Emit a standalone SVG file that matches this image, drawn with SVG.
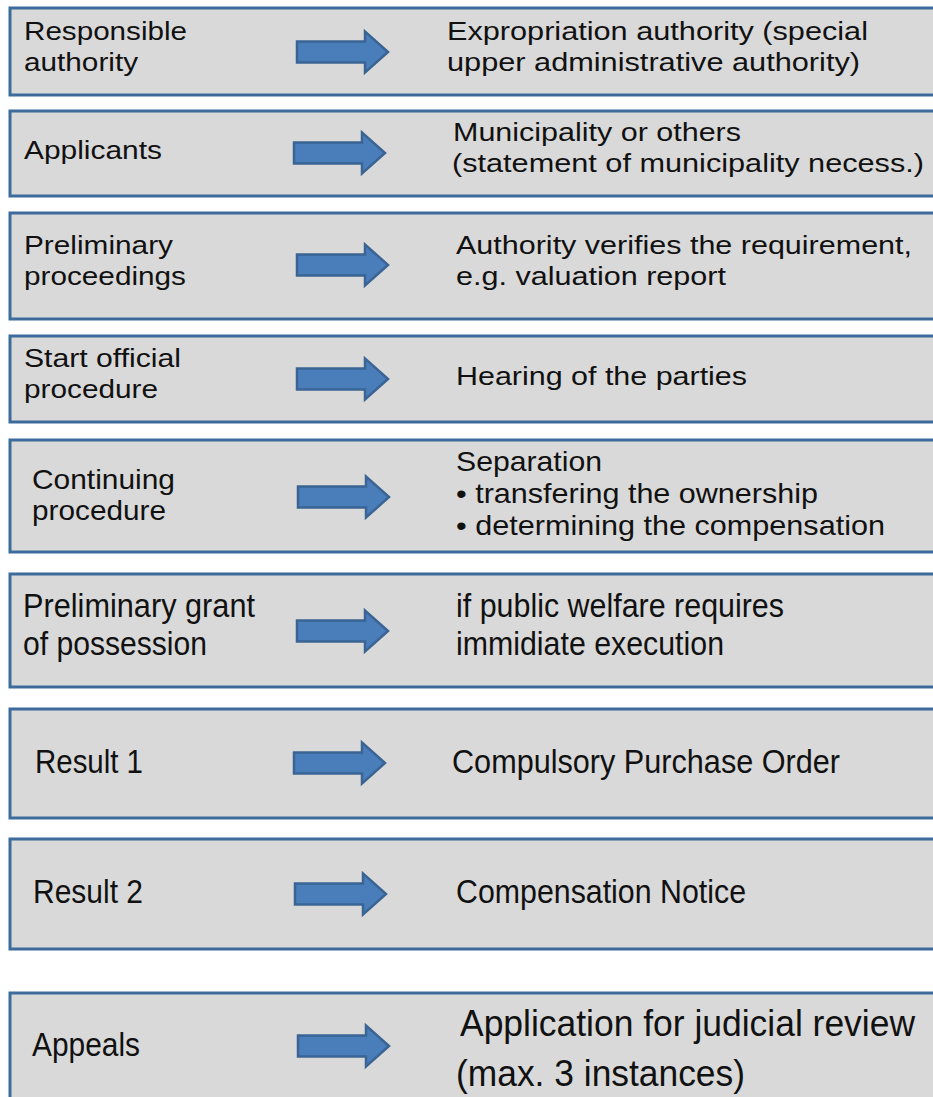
<svg xmlns="http://www.w3.org/2000/svg" width="933" height="1097" viewBox="0 0 933 1097">
<style>
.box{fill:#d9d9d9;stroke:#3d6b9c;stroke-width:3}
.arr{fill:#4a7ebb;stroke:#3a6494;stroke-width:2.5;stroke-linejoin:miter}
.t{font-family:"Liberation Sans",Arial,sans-serif;font-size:25px;fill:#111}
.n{font-family:"Liberation Sans Narrow","Liberation Sans",Arial,sans-serif;fill:#111}
</style>
<defs>
<path id="arrow" class="arr" d="M0,-10.5 H68 V-20.5 L91,0 L68,20.5 V10.5 H0 Z"/>
</defs>
<rect width="933" height="1097" fill="#ffffff"/>
<g id="row1">
<rect class="box" x="10" y="8" width="940" height="87"/>
<text class="t" x="24" y="40" textLength="163" lengthAdjust="spacingAndGlyphs">Responsible</text>
<text class="t" x="24" y="71" textLength="114" lengthAdjust="spacingAndGlyphs">authority</text>
<text class="t" x="447" y="40" textLength="421" lengthAdjust="spacingAndGlyphs">Expropriation authority (special</text>
<text class="t" x="447" y="71" textLength="413" lengthAdjust="spacingAndGlyphs">upper administrative authority)</text>
</g>
<g id="row2">
<rect class="box" x="10" y="111" width="940" height="85"/>
<text class="t" x="24" y="159" textLength="138" lengthAdjust="spacingAndGlyphs">Applicants</text>
<text class="t" x="453" y="141" textLength="288" lengthAdjust="spacingAndGlyphs">Municipality or others</text>
<text class="t" x="452" y="172" textLength="472" lengthAdjust="spacingAndGlyphs">(statement of municipality necess.)</text>
</g>
<g id="row3">
<rect class="box" x="10" y="213" width="940" height="106"/>
<text class="t" x="24" y="254" textLength="149" lengthAdjust="spacingAndGlyphs">Preliminary</text>
<text class="t" x="24" y="285" textLength="162" lengthAdjust="spacingAndGlyphs">proceedings</text>
<text class="t" x="456" y="254" textLength="456" lengthAdjust="spacingAndGlyphs">Authority verifies the requirement,</text>
<text class="t" x="456" y="285" textLength="270" lengthAdjust="spacingAndGlyphs">e.g. valuation report</text>
</g>
<g id="row4">
<rect class="box" x="10" y="336" width="940" height="86"/>
<text class="t" x="24" y="367" textLength="157" lengthAdjust="spacingAndGlyphs">Start official</text>
<text class="t" x="24" y="398" textLength="134" lengthAdjust="spacingAndGlyphs">procedure</text>
<text class="t" x="456" y="385" textLength="291" lengthAdjust="spacingAndGlyphs">Hearing of the parties</text>
</g>
<g id="row5">
<rect class="box" x="10" y="440" width="940" height="112"/>
<text class="n" font-size="28" x="32" y="489" textLength="143" lengthAdjust="spacingAndGlyphs">Continuing</text>
<text class="n" font-size="28" x="32" y="520" textLength="134" lengthAdjust="spacingAndGlyphs">procedure</text>
<text class="n" font-size="28" x="456" y="471" textLength="146" lengthAdjust="spacingAndGlyphs">Separation</text>
<text class="n" font-size="28" x="456" y="503" textLength="362" lengthAdjust="spacingAndGlyphs">• transfering the ownership</text>
<text class="n" font-size="28" x="456" y="535" textLength="429" lengthAdjust="spacingAndGlyphs">• determining the compensation</text>
</g>
<g id="row6">
<rect class="box" x="10" y="574" width="940" height="113"/>
<text class="n" font-size="33" x="23" y="617" textLength="232" lengthAdjust="spacingAndGlyphs">Preliminary grant</text>
<text class="n" font-size="33" x="23" y="655" textLength="184" lengthAdjust="spacingAndGlyphs">of possession</text>
<text class="n" font-size="33" x="456" y="617" textLength="328" lengthAdjust="spacingAndGlyphs">if public welfare requires</text>
<text class="n" font-size="33" x="456" y="655" textLength="268" lengthAdjust="spacingAndGlyphs">immidiate execution</text>
</g>
<g id="row7">
<rect class="box" x="10" y="709" width="940" height="109"/>
<text class="n" font-size="33" x="35" y="773" textLength="108" lengthAdjust="spacingAndGlyphs">Result 1</text>
<text class="n" font-size="33" x="452" y="773" textLength="388" lengthAdjust="spacingAndGlyphs">Compulsory Purchase Order</text>
</g>
<g id="row8">
<rect class="box" x="10" y="839" width="940" height="110"/>
<text class="n" font-size="33" x="33" y="903" textLength="110" lengthAdjust="spacingAndGlyphs">Result 2</text>
<text class="n" font-size="33" x="456" y="903" textLength="290" lengthAdjust="spacingAndGlyphs">Compensation Notice</text>
</g>
<g id="row9">
<rect class="box" x="10" y="993" width="940" height="130"/>
<text class="n" font-size="33" x="32" y="1056" textLength="108" lengthAdjust="spacingAndGlyphs">Appeals</text>
<text class="n" font-size="36" x="460" y="1036" textLength="455" lengthAdjust="spacingAndGlyphs">Application for judicial review</text>
<text class="n" font-size="36" x="456" y="1086" textLength="289" lengthAdjust="spacingAndGlyphs">(max. 3 instances)</text>
</g>
<g id="connectors">
<use href="#arrow" transform="translate(297,52)"/>
<use href="#arrow" transform="translate(294,153)"/>
<use href="#arrow" transform="translate(297,265)"/>
<use href="#arrow" transform="translate(297,379)"/>
<use href="#arrow" transform="translate(298,497)"/>
<use href="#arrow" transform="translate(297,631)"/>
<use href="#arrow" transform="translate(294,763)"/>
<use href="#arrow" transform="translate(295,894)"/>
<use href="#arrow" transform="translate(298,1046)"/>
</g>
</svg>
